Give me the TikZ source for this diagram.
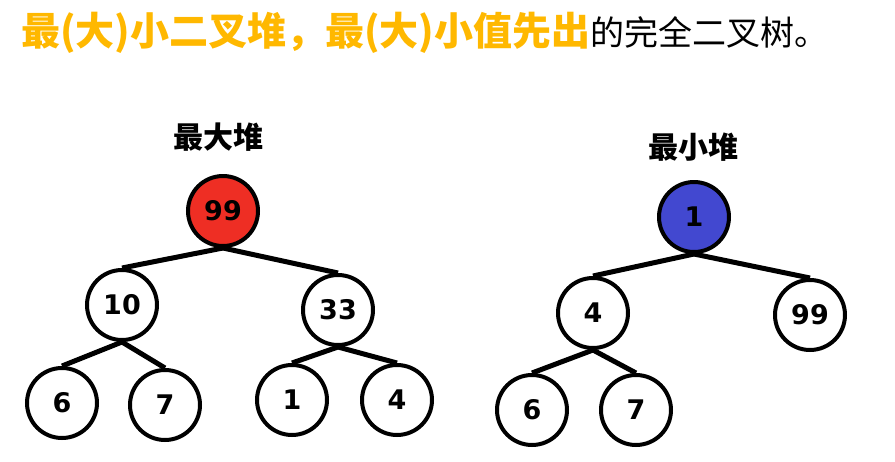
\documentclass[tikz,border=0pt]{standalone}
\usepackage{fontspec}
\setmainfont{DejaVu Sans}
\newfontfamily\cjk{Noto Sans CJK SC}
\definecolor{heapred}{RGB}{238,46,36}
\definecolor{heapblue}{RGB}{66,72,208}
\definecolor{titleorange}{RGB}{255,184,0}
\begin{document}
\begin{tikzpicture}[x=1pt,y=-1pt,
  hnode/.style={circle, draw, fill=white, line width=4pt, minimum size=70pt, inner sep=0pt,
    font=\fontsize{27}{27}\selectfont\bfseries},
  hedge/.style={line width=5pt},
  hlabel/.style={font=\cjk\bfseries\fontsize{30}{30}\selectfont}]
\useasboundingbox (0,0) rectangle (895,461);
\node[anchor=west, inner sep=0pt] (title) at (21,33){\cjk\bfseries\fontsize{39}{39}\selectfont\color{titleorange}最(大)小二叉堆，最(大)小值先出\mdseries\fontsize{34}{34}\selectfont\color{black}的完全二叉树。};
% max heap
\node[hlabel] (maxlabel) at (218,137){最大堆};
\node[hnode, fill=heapred] (max99) at (223,211){99};
\node[hnode] (max10) at (122,305){10};
\node[hnode] (max6) at (62,403){6};
\node[hnode] (max7) at (165,405){7};
\draw[hedge](max10.south) -- (max6.north);
\draw[hedge](max10.south) -- (max7.north);
\node[hnode] (max33) at (338,310){33};
\node[hnode] (max1) at (292,400){1};
\node[hnode] (max4) at (397,400){4};
\draw[hedge](max33.south) -- (max1.north);
\draw[hedge](max33.south) -- (max4.north);
\draw[hedge](max99.south) -- (max10.north);
\draw[hedge](max99.south) -- (max33.north);
% min heap
\node[hlabel] (minlabel) at (693,147){最小堆};
\node[hnode, fill=heapblue] (min1) at (694,217){1};
\node[hnode] (min4) at (593,313){4};
\node[hnode] (min6) at (532,410){6};
\node[hnode] (min7) at (636,410){7};
\draw[hedge](min4.south) -- (min6.north);
\draw[hedge](min4.south) -- (min7.north);
\node[hnode] (min99) at (810,315){99};
\draw[hedge](min1.south) -- (min4.north);
\draw[hedge](min1.south) -- (min99.north);
\end{tikzpicture}
\end{document}
